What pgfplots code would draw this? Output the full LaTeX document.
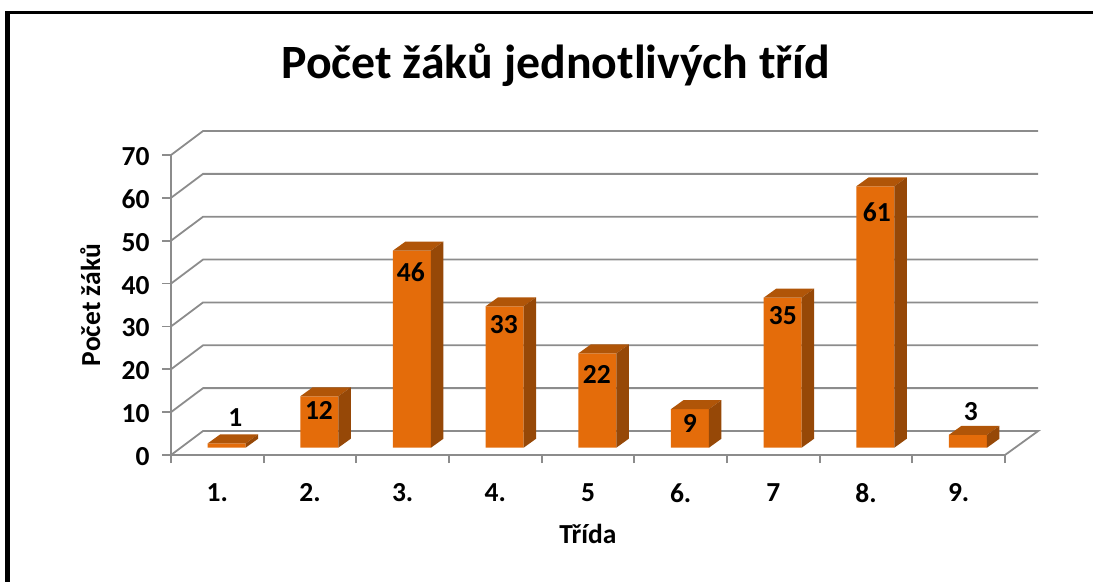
\documentclass[border=0pt]{standalone}
\usepackage{fontspec}
\setmainfont{Carlito}
\usepackage{pgfplots}
\usepackage{pgfplotstable}
\pgfplotsset{compat=1.18}
\definecolor{barFront}{HTML}{E46C0A}
\definecolor{barTop}{HTML}{B05508}
\definecolor{barSide}{HTML}{964807}
\definecolor{gridGray}{HTML}{8C8C8C}

% x is the middle of the class, y the number of pupils
% lx, ly: where the value label sits
\pgfplotstableread{
x   y  lx    ly
0.5 1  0.693 8.63
1.5 12 1.597 10.5
2.5 46 2.589 42.7
3.5 33 3.592 30.33
4.5 22 4.595 18.9
5.5 9  5.599 7.47
6.5 35 6.602 32.43
7.5 61 7.616 56.7
8.5 3  8.630 10.03
}\pupils

% top and side face of a bar, drawn from the top middle of its front face
\pgfdeclareplotmark{barfaces}{%
  \pgfmathsetmacro{\barh}{\val*4.2857}%
  \pgfsetcolor{barTop}%
  \pgfpathmoveto{\pgfpoint{-19pt}{0pt}}%
  \pgfpathlineto{\pgfpoint{-6.5pt}{9pt}}%
  \pgfpathlineto{\pgfpoint{31.5pt}{9pt}}%
  \pgfpathlineto{\pgfpoint{19pt}{0pt}}%
  \pgfpathclose
  \pgfusepathqfill
  \pgfsetcolor{barSide}%
  \pgfpathmoveto{\pgfpoint{19pt}{0pt}}%
  \pgfpathlineto{\pgfpoint{31.5pt}{9pt}}%
  \pgfpathlineto{\pgfpoint{31.5pt}{9pt-\barh pt}}%
  \pgfpathlineto{\pgfpoint{19pt}{-\barh pt}}%
  \pgfpathclose
  \pgfusepathqfill
}

\begin{document}
\begin{tikzpicture}[x=1pt,y=1pt]
\path[use as bounding box] (0,0) rectangle (1093,582);
% frame of the slide, only left and top are in the crop
\fill[black] (5,0) rectangle (10,571);
\fill[black] (5,567.5) rectangle (1093,571);
\begin{axis}[
    at={(171pt,127pt)}, anchor=south west,
    scale only axis, width=834pt, height=300pt,
    clip=false,
    xmin=0, xmax=9, ymin=0, ymax=70,
    axis x line*=bottom, axis y line*=left,
    axis line style={gridGray, line width=1.8pt, -},
    xtick={0.5,1.5,...,8.5},
    xticklabels={1.,2.,3.,4.,5,6.,7,8.,9.},
    minor xtick={0,1,...,9},
    ytick={0,10,...,70},
    tick align=outside,
    major x tick style={draw=none},
    major tick length=9pt, minor tick length=8pt,
    every tick/.style={gridGray, line width=1.8pt},
    minor tick style={gridGray, line width=1.8pt},
    /pgf/number format/assume math mode=true,
    tick label style={font=\fontsize{27.5}{28}\selectfont\bfseries},
    xticklabel style={yshift=-16pt},
    yticklabel style={xshift=-9pt, yshift=-1.5pt},
    title={Počet žáků jednotlivých tříd},
    title style={at={(axis description cs:0.4612,1.278)}, anchor=center,
        font=\fontsize{47.8}{48}\selectfont\bfseries},
    xlabel={Třída},
    xlabel style={at={(axis description cs:0.5,-0.263)}, anchor=center,
        font=\fontsize{27.5}{28}\selectfont\bfseries},
    ylabel={Počet žáků},
    ylabel style={at={(axis description cs:-0.0969,0.5)}, anchor=center,
        font=\fontsize{27.5}{28}\selectfont\bfseries},
]
% gridlines on the floor and back wall
\addplot[gridGray, line width=1.8pt] coordinates {(0,0)  (0.346,5.6)  (9.358,5.6) (9,0) (0,0)};
\addplot[gridGray, line width=1.8pt] coordinates {(0,10) (0.346,15.6) (9.358,15.6)};
\addplot[gridGray, line width=1.8pt] coordinates {(0,20) (0.346,25.6) (9.358,25.6)};
\addplot[gridGray, line width=1.8pt] coordinates {(0,30) (0.346,35.6) (9.358,35.6)};
\addplot[gridGray, line width=1.8pt] coordinates {(0,40) (0.346,45.6) (9.358,45.6)};
\addplot[gridGray, line width=1.8pt] coordinates {(0,50) (0.346,55.6) (9.358,55.6)};
\addplot[gridGray, line width=1.8pt] coordinates {(0,60) (0.346,65.6) (9.358,65.6)};
\addplot[gridGray, line width=1.8pt] coordinates {(0,70) (0.346,75.6) (9.358,75.6)};
% front faces
\addplot[ybar, bar width=38pt, bar shift=9.3pt, yshift=7.3pt,
    fill=barFront, draw=none] table[x=x,y=y] {\pupils};
% top and side faces
\addplot[scatter, only marks, mark=barfaces, xshift=9.3pt, yshift=7.3pt,
    visualization depends on={\thisrow{y}\as\val}] table[x=x,y=y] {\pupils};
% value labels
\addplot[only marks, mark=none, nodes near coords, point meta=explicit symbolic,
    nodes near coords style={anchor=center, inner sep=0pt, text=black,
        font=\fontsize{27.5}{28}\selectfont\bfseries}]
    table[x=lx,y=ly,meta=y] {\pupils};
\end{axis}
\end{tikzpicture}
\end{document}
